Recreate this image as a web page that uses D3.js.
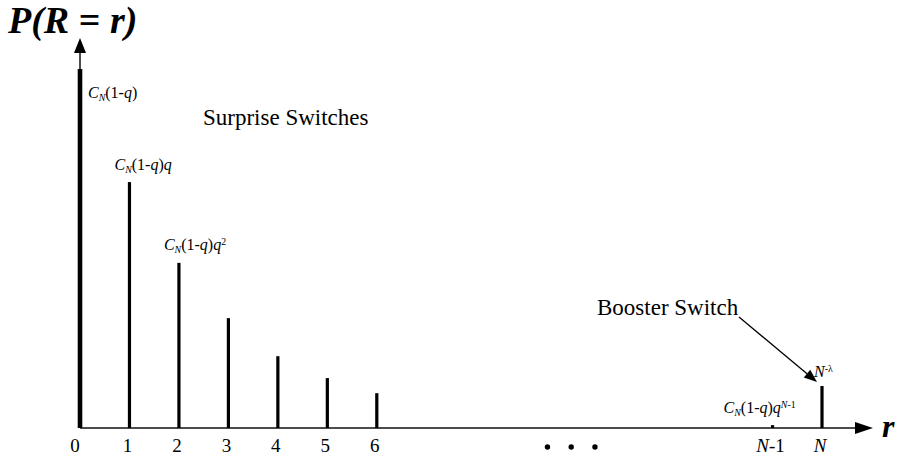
<!DOCTYPE html>
<html>
<head>
<meta charset="utf-8">
<script src="https://cdn.jsdelivr.net/npm/d3@7"></script>
<style>
  html, body { margin: 0; padding: 0; background: #fff; }
  svg { display: block; }
  text { font-family: "Liberation Serif", "Times New Roman", serif; fill: #000; }
</style>
</head>
<body>
<svg id="chart" width="900" height="459"></svg>
<script>
// ---- data ----
const categories = ["0", "1", "2", "3", "4", "5", "6", "N-1", "N"];
const slots      = [0, 1, 2, 3, 4, 5, 6, 14, 15];          // position index along r (gap = omitted values)
const values     = [1.00, 0.685, 0.46, 0.306, 0.20, 0.139, 0.097, 0.008, 0.117]; // relative P(R=r)
const barLabels  = [
  [{t:"C", i:true}, {t:"N", i:true, sub:true}, {t:"(1-"}, {t:"q", i:true}, {t:")"}],
  [{t:"C", i:true}, {t:"N", i:true, sub:true}, {t:"(1-"}, {t:"q", i:true}, {t:")"}, {t:"q", i:true}],
  [{t:"C", i:true}, {t:"N", i:true, sub:true}, {t:"(1-"}, {t:"q", i:true}, {t:")"}, {t:"q", i:true}, {t:"2", sup:true}],
  null, null, null, null,
  [{t:"C", i:true}, {t:"N", i:true, sub:true}, {t:"(1-"}, {t:"q", i:true}, {t:")"}, {t:"q", i:true}, {t:"N", i:true, sup:true}, {t:"-1", sup:true}],
  [{t:"N", i:true}, {t:"-λ", sup:true}]
];
const tickLabels = [
  [{t:"0"}], [{t:"1"}], [{t:"2"}], [{t:"3"}], [{t:"4"}], [{t:"5"}], [{t:"6"}],
  [{t:"N", i:true}, {t:"-1"}], [{t:"N", i:true}]
];
const ellipsisSlots = [9.45, 9.93, 10.41];
const annotations = ["Surprise Switches", "Booster Switch"];

// ---- scales ----
const svg = d3.select("#chart");
const x = d3.scaleLinear().domain([0, 15]).range([80, 822]);
const y = d3.scaleLinear().domain([0, 1]).range([428, 69]);
const x0 = x(0), yBase = y(0);

// ---- axes ----
const axisColor = "#111";
const xEnd = 873, yEnd = 38;
svg.append("line").attr("x1", x0).attr("x2", xEnd - 16).attr("y1", yBase).attr("y2", yBase)
  .attr("stroke", axisColor).attr("stroke-width", 1.5);
svg.append("path").attr("d", `M${xEnd},${yBase} L${xEnd-18},${yBase-6} L${xEnd-18},${yBase+6} Z`).attr("fill", "#000");
svg.append("line").attr("x1", x0).attr("x2", x0).attr("y1", yBase).attr("y2", yEnd + 14)
  .attr("stroke", axisColor).attr("stroke-width", 1.5);
svg.append("path").attr("d", `M${x0},${yEnd} L${x0-6},${yEnd+15} L${x0+6},${yEnd+15} Z`).attr("fill", "#000");

// ---- bars (stems) ----
const data = categories.map((c, k) => ({c, slot: slots[k], v: values[k], label: barLabels[k], tick: tickLabels[k], k}));
svg.selectAll("rect.bar").data(data).join("rect").attr("class", "bar")
  .attr("x", d => x(d.slot) - (d.k === 0 ? 2.3 : 1.6))
  .attr("width", d => d.k === 0 ? 4.6 : 3.2)
  .attr("y", d => y(d.v))
  .attr("height", d => yBase - y(d.v))
  .attr("fill", "#000");

// ---- rich text helper ----
function rich(sel, parts, size) {
  parts.forEach(p => {
    const ts = sel.append("tspan").text(p.t);
    if (p.i) ts.attr("font-style", "italic");
    if (p.sub) ts.attr("font-size", size * 0.62).attr("baseline-shift", "-25%");
    if (p.sup) ts.attr("font-size", size * 0.62).attr("baseline-shift", "55%");
  });
}

// ---- bar labels ----
const labelOffsets = { 0: [8, -28], 1: [-15, -12], 2: [-15, -13], 7: [-49, -12], 8: [-8, -9] };
data.filter(d => d.label).forEach(d => {
  const off = labelOffsets[d.k];
  const t = svg.append("text").attr("font-size", 16)
    .attr("x", x(d.slot) + off[0]).attr("y", y(d.v) + (d.k === 0 ? 29 : off[1]));
  rich(t, d.label, 16);
});

// ---- tick labels ----
data.forEach(d => {
  const t = svg.append("text").attr("font-size", 19).attr("text-anchor", "middle")
    .attr("x", x(d.slot) - (d.k === 0 ? 5 : 2)).attr("y", 452);
  rich(t, d.tick, 19);
});

// ---- ellipsis dots ----
svg.selectAll("circle.dot").data(ellipsisSlots).join("circle").attr("class", "dot")
  .attr("cx", d => x(d)).attr("cy", 447).attr("r", 2.7).attr("fill", "#000");

// ---- titles ----
const title = svg.append("text").attr("x", 8).attr("y", 33).attr("font-size", 38)
  .attr("font-weight", "bold").attr("font-style", "italic");
title.append("tspan").text("P(R");
title.append("tspan").text(" = ").attr("font-style", "normal");
title.append("tspan").text("r)");

svg.append("text").attr("x", 882).attr("y", 437).attr("font-size", 32)
  .attr("font-weight", "bold").attr("font-style", "italic").text("r");

// ---- annotations ----
svg.append("text").attr("x", 203).attr("y", 125).attr("font-size", 23).text(annotations[0]);
svg.append("text").attr("x", 597).attr("y", 315).attr("font-size", 23).text(annotations[1]);

// booster arrow
const ax1 = 739, ay1 = 317, ax2 = x(15) - 5, ay2 = 382;
const ang = Math.atan2(ay2 - ay1, ax2 - ax1);
const hl = 13, hw = 5;
const bx = ax2 - hl * Math.cos(ang), by = ay2 - hl * Math.sin(ang);
svg.append("line").attr("x1", ax1).attr("y1", ay1).attr("x2", bx).attr("y2", by)
  .attr("stroke", "#000").attr("stroke-width", 1.3);
svg.append("path").attr("d",
  `M${ax2},${ay2} L${bx + hw*Math.sin(ang)},${by - hw*Math.cos(ang)} L${bx - hw*Math.sin(ang)},${by + hw*Math.cos(ang)} Z`)
  .attr("fill", "#000");
</script>
</body>
</html>
